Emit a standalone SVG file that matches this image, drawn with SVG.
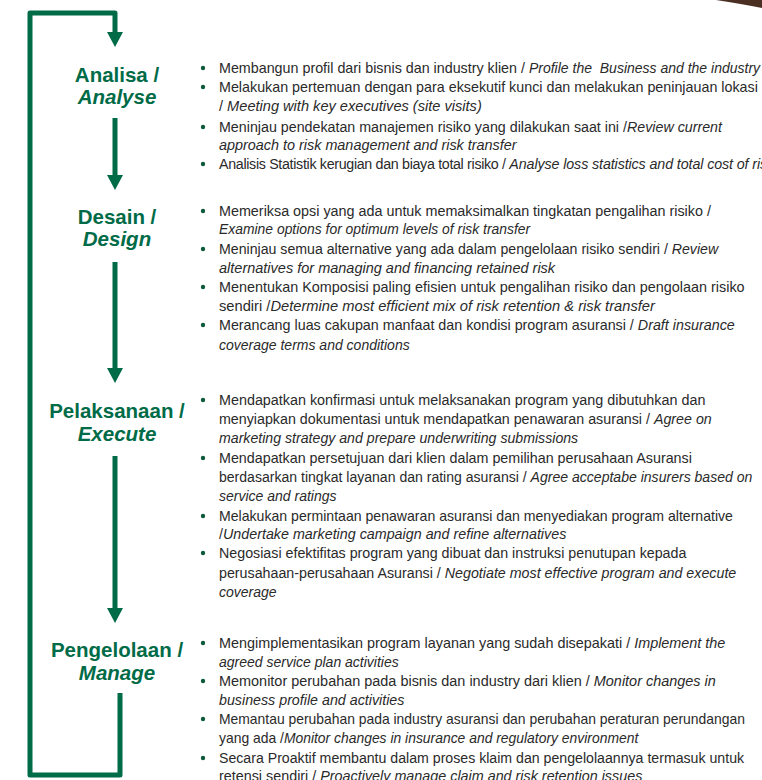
<svg xmlns="http://www.w3.org/2000/svg" width="762" height="780" viewBox="0 0 762 780">
<defs>
<style>
.h{font-family:"Liberation Sans",Arial,sans-serif;font-weight:bold;font-size:20.5px;fill:#006B47;text-anchor:middle}
.hi{font-style:italic}
.t{font-family:"Liberation Sans",Arial,sans-serif;font-size:14.25px;fill:#2a2a2a}
.i{font-style:italic}
.b{fill:#0d5a3b}
.c{fill:none;stroke:#006B47;stroke-width:5;stroke-linejoin:round}
</style>
<marker id="ah" viewBox="0 0 15 16" markerUnits="userSpaceOnUse" markerWidth="15" markerHeight="16" refX="2" refY="8" orient="auto">
<path d="M0,0 L15,8 L0,16 Z" fill="#006B47"/>
</marker>
</defs>
<rect width="762" height="780" fill="#ffffff"/>
<path d="M716 0 Q742 4 762 8 L762 0 Z" fill="#4a2f22"/>

<g id="connectors">
<path class="c" d="M120 693 L120 775 L30 775 L30 13 L115 13 L115 34" marker-end="url(#ah)"/>
<path class="c" d="M115 118 L115 177" marker-end="url(#ah)"/>
<path class="c" d="M115 262 L115 370" marker-end="url(#ah)"/>
<path class="c" d="M115 456 L115 610" marker-end="url(#ah)"/>
</g>

<g id="node-analisa">
<text class="h" x="117" y="82">Analisa /</text>
<text class="h hi" x="117" y="104">Analyse</text>
<g class="b"><circle cx="203" cy="68" r="2.2"/><circle cx="203" cy="87" r="2.2"/><circle cx="203" cy="127" r="2.2"/><circle cx="203" cy="164" r="2.2"/></g>
<g class="t">
<text x="219" y="73" style="font-size:14.3px">Membangun profil dari bisnis dan industry klien / <tspan class="i" style="white-space:pre;font-size:14px">Profile the  Business and the industry</tspan></text>
<text x="219" y="92" style="font-size:14.3px">Melakukan pertemuan dengan para eksekutif kunci dan melakukan peninjauan lokasi</text>
<text x="219" y="111" style="font-size:14.6px">/ <tspan class="i">Meeting with key executives (site visits)</tspan></text>
<text x="219" y="132">Meninjau pendekatan manajemen risiko yang dilakukan saat ini /<tspan class="i">Review current</tspan></text>
<text x="219" y="150" class="i" style="font-size:14.4px">approach to risk management and risk transfer</text>
<text x="219" y="169"><tspan style="letter-spacing:-0.32px">Analisis Statistik kerugian dan biaya total risiko / </tspan><tspan class="i" style="letter-spacing:-0.1px">Analyse loss statistics and total cost of risk</tspan></text>
</g>
</g>

<g id="node-desain">
<text class="h" x="117" y="224">Desain /</text>
<text class="h hi" x="117" y="246">Design</text>
<g class="b"><circle cx="203" cy="211" r="2.2"/><circle cx="203" cy="249" r="2.2"/><circle cx="203" cy="287" r="2.2"/><circle cx="203" cy="325" r="2.2"/></g>
<g class="t">
<text x="219" y="216" style="font-size:14.35px">Memeriksa opsi yang ada untuk memaksimalkan tingkatan pengalihan risiko /</text>
<text x="219" y="234" class="i" style="font-size:13.9px">Examine options for optimum levels of risk transfer</text>
<text x="219" y="254" style="font-size:14.15px">Meninjau semua alternative yang ada dalam pengelolaan risiko sendiri / <tspan class="i">Review</tspan></text>
<text x="219" y="273" class="i" style="font-size:14.5px">alternatives for managing and financing retained risk</text>
<text x="219" y="292" style="font-size:14.4px">Menentukan Komposisi paling efisien untuk pengalihan risiko dan pengolaan risiko</text>
<text x="219" y="311" style="font-size:14.7px">sendiri /<tspan class="i">Determine most efficient mix of risk retention &amp; risk transfer</tspan></text>
<text x="219" y="330" style="font-size:14.3px">Merancang luas cakupan manfaat dan kondisi program asuransi / <tspan class="i">Draft insurance</tspan></text>
<text x="219" y="350" class="i" style="font-size:14px">coverage terms and conditions</text>
</g>
</g>

<g id="node-pelaksanaan">
<text class="h" x="117" y="418">Pelaksanaan /</text>
<text class="h hi" x="117" y="441">Execute</text>
<g class="b"><circle cx="203" cy="400" r="2.2"/><circle cx="203" cy="458" r="2.2"/><circle cx="203" cy="516" r="2.2"/><circle cx="203" cy="553" r="2.2"/></g>
<g class="t">
<text x="219" y="405" style="font-size:14.35px">Mendapatkan konfirmasi untuk melaksanakan program yang dibutuhkan dan</text>
<text x="219" y="424">menyiapkan dokumentasi untuk mendapatkan penawaran asuransi / <tspan class="i">Agree on</tspan></text>
<text x="219" y="443" class="i" style="font-size:14.15px">marketing strategy and prepare underwriting submissions</text>
<text x="219" y="463" style="font-size:14.3px">Mendapatkan persetujuan dari klien dalam pemilihan perusahaan Asuransi</text>
<text x="219" y="482" style="font-size:14.05px">berdasarkan tingkat layanan dan rating asuransi / <tspan class="i">Agree acceptabe insurers based on</tspan></text>
<text x="219" y="501" class="i" style="font-size:14px">service and ratings</text>
<text x="219" y="521" style="font-size:14.1px">Melakukan permintaan penawaran asuransi dan menyediakan program alternative</text>
<text x="219" y="539" style="font-size:14.3px">/<tspan class="i">Undertake marketing campaign and refine alternatives</tspan></text>
<text x="219" y="558">Negosiasi efektifitas program yang dibuat dan instruksi penutupan kepada</text>
<text x="219" y="578">perusahaan-perusahaan Asuransi / <tspan class="i">Negotiate most effective program and execute</tspan></text>
<text x="219" y="597" class="i" style="font-size:14px">coverage</text>
</g>
</g>

<g id="node-pengelolaan">
<text class="h" x="117" y="657">Pengelolaan /</text>
<text class="h hi" x="117" y="680">Manage</text>
<g class="b"><circle cx="203" cy="643" r="2.2"/><circle cx="203" cy="681" r="2.2"/><circle cx="203" cy="719" r="2.2"/><circle cx="203" cy="758" r="2.2"/></g>
<g class="t">
<text x="219" y="648" style="font-size:14.4px">Mengimplementasikan program layanan yang sudah disepakati / <tspan class="i">Implement the</tspan></text>
<text x="219" y="667" class="i" style="font-size:14px">agreed service plan activities</text>
<text x="219" y="686" style="font-size:14.45px">Memonitor perubahan pada bisnis dan industry dari klien / <tspan class="i">Monitor changes in</tspan></text>
<text x="219" y="705" class="i">business profile and activities</text>
<text x="219" y="724" style="font-size:13.9px">Memantau perubahan pada industry asuransi dan perubahan peraturan perundangan</text>
<text x="219" y="743" style="font-size:13.9px">yang ada /<tspan class="i">Monitor changes in insurance and regulatory environment</tspan></text>
<text x="219" y="763" style="font-size:14.15px">Secara Proaktif membantu dalam proses klaim dan pengelolaannya termasuk untuk</text>
<text x="219" y="781" style="font-size:14.35px">retensi sendiri / <tspan class="i">Proactively manage claim and risk retention issues</tspan></text>
</g>
</g>
</svg>
